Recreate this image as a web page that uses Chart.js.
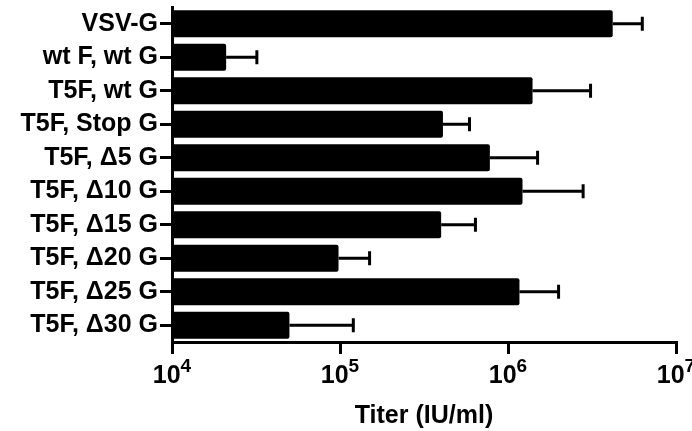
<!DOCTYPE html>
<html>
<head>
<meta charset="utf-8">
<script src="https://cdn.jsdelivr.net/npm/chart.js@4.4.1/dist/chart.umd.min.js"></script>
<style>
  html, body { margin: 0; padding: 0; background: #fff; }
  #wrap { width: 692px; height: 431px; }
</style>
</head>
<body>
<div id="wrap"><canvas id="titerChart"></canvas></div>
<script>
// Data
const constructs = [
  'VSV-G',
  'wt F, wt G',
  'T5F, wt G',
  'T5F, Stop G',
  'T5F, Δ5 G',
  'T5F, Δ10 G',
  'T5F, Δ15 G',
  'T5F, Δ20 G',
  'T5F, Δ25 G',
  'T5F, Δ30 G'
];
const titers = [4.2e6, 2.1e4, 1.4e6, 4.1e5, 7.8e5, 1.22e6, 4.0e5, 9.8e4, 1.17e6, 5.0e4];
const titerSD = [2.1e6, 1.1e4, 1.7e6, 1.8e5, 7.2e5, 1.58e6, 2.4e5, 5.2e4, 8.3e5, 7.0e4];
const tickValues = [1e4, 1e5, 1e6, 1e7];

let black = '#000';
let fontFamily = 'Liberation Sans';

// error bars, right side only
const errorBarPlugin = {
  id: 'errorBars',
  afterDatasetsDraw(chart) {
    const ctx = chart.ctx;
    const xs = chart.scales.x;
    const meta = chart.getDatasetMeta(0);
    ctx.save();
    ctx.strokeStyle = black;
    ctx.lineWidth = 3;
    meta.data.forEach((bar, i) => {
      const x0 = xs.getPixelForValue(titers[i]);
      const x1 = xs.getPixelForValue(titers[i] + titerSD[i]);
      const y = bar.y;
      ctx.beginPath();
      ctx.moveTo(x0, y);
      ctx.lineTo(x1, y);
      ctx.stroke();
      ctx.beginPath();
      ctx.moveTo(x1, y - 7);
      ctx.lineTo(x1, y + 7);
      ctx.stroke();
    });
    ctx.restore();
  }
};

// 10^n tick labels with a real superscript
const powerTicksPlugin = {
  id: 'powerTicks',
  afterDraw(chart) {
    const ctx = chart.ctx;
    const xs = chart.scales.x;
    const baseY = xs.top + 41;
    ctx.save();
    ctx.fillStyle = black;
    ctx.textBaseline = 'alphabetic';
    ctx.textAlign = 'left';
    xs.ticks.forEach(t => {
      const exp = String(Math.round(Math.log10(t.value)));
      ctx.font = 'bold 25px ' + fontFamily;
      const wBase = ctx.measureText('10').width;
      ctx.font = 'bold 19px ' + fontFamily;
      const wExp = ctx.measureText(exp).width;
      const x = xs.getPixelForValue(t.value) - (wBase + wExp) / 2;
      ctx.font = 'bold 25px ' + fontFamily;
      ctx.fillText('10', x, baseY);
      ctx.font = 'bold 19px ' + fontFamily;
      ctx.fillText(exp, x + wBase, baseY - 11);
    });
    ctx.restore();
  }
};

new Chart(document.getElementById('titerChart'), {
  type: 'bar',
  data: {
    labels: constructs,
    datasets: [{
      data: titers,
      backgroundColor: black,
      borderWidth: 0,
      borderRadius: 2,
      borderSkipped: 'start',
      categoryPercentage: 0.8,
      barPercentage: 1.0
    }]
  },
  options: {
    indexAxis: 'y',
    responsive: true,
    maintainAspectRatio: false,
    animation: false,
    devicePixelRatio: 1,
    layout: { padding: { top: 7, right: 16, bottom: 0, left: 0 } },
    plugins: {
      legend: { display: false },
      tooltip: { enabled: false }
    },
    scales: {
      x: {
        type: 'logarithmic',
        min: 1e4,
        max: 1e7,
        afterBuildTicks(scale) {
          scale.ticks = tickValues.map(v => ({ value: v }));
        },
        afterFit(scale) {
          scale.height = 89;
          scale.paddingLeft = 0;
          scale.paddingRight = 0;
        },
        border: { display: true, color: black, width: 3 },
        grid: {
          display: true,
          drawOnChartArea: false,
          drawTicks: true,
          tickLength: 12,
          lineWidth: 3,
          color: black
        },
        ticks: { display: false, autoSkip: false },
        title: {
          display: true,
          text: 'Titer (IU/ml)',
          color: black,
          padding: { top: 0, bottom: 0 },
          font: { family: fontFamily, size: 25, weight: 'bold' }
        }
      },
      y: {
        afterFit(scale) {
          scale.width = 172;
          scale.paddingTop = 0;
          scale.paddingBottom = 0;
        },
        border: { display: true, color: black, width: 3 },
        grid: {
          display: true,
          offset: false,
          drawOnChartArea: false,
          drawTicks: true,
          tickLength: 12,
          lineWidth: 3,
          color: black
        },
        ticks: {
          autoSkip: false,
          padding: 2,
          color: black,
          font: { family: fontFamily, size: 25, weight: 'bold' }
        }
      }
    }
  },
  plugins: [errorBarPlugin, powerTicksPlugin]
});
</script>
</body>
</html>
